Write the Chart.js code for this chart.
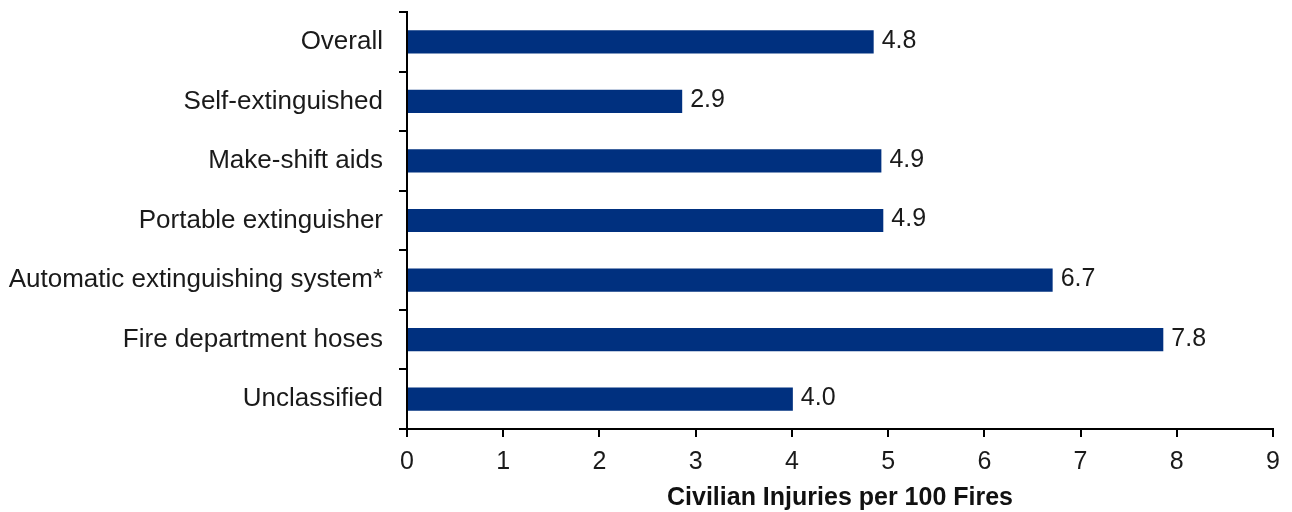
<!DOCTYPE html>
<html>
<head>
<meta charset="utf-8">
<script src="https://cdn.jsdelivr.net/npm/chart.js@4"></script>
<style>
html,body{margin:0;padding:0;background:#fff;}
#wrap{width:1292px;height:512px;}
</style>
</head>
<body>
<div id="wrap"><canvas id="c" width="1292" height="512"></canvas></div>
<script>
const categories = ["Overall","Self-extinguished","Make-shift aids","Portable extinguisher","Automatic extinguishing system*","Fire department hoses","Unclassified"];
const values = [4.85, 2.86, 4.93, 4.95, 6.71, 7.86, 4.01];
const valueLabels = ["4.8","2.9","4.9","4.9","6.7","7.8","4.0"];
const xTicks = [0,1,2,3,4,5,6,7,8,9];
const xTitle = "Civilian Injuries per 100 Fires";

const FONT = '"Liberation Sans", Arial, sans-serif';

const labelPlugin = {
  id: 'valueLabels',
  afterDatasetsDraw(chart) {
    const ctx = chart.ctx;
    const meta = chart.getDatasetMeta(0);
    ctx.save();
    ctx.font = '25px ' + FONT;
    ctx.fillStyle = '#1a1a1a';
    ctx.textAlign = 'left';
    ctx.textBaseline = 'middle';
    meta.data.forEach((bar, i) => {
      ctx.fillText(valueLabels[i], bar.x + 8, bar.y - 1);
    });
    ctx.restore();
  }
};

new Chart(document.getElementById('c'), {
  type: 'bar',
  data: {
    labels: categories,
    datasets: [{
      data: values,
      backgroundColor: '#00307f',
      borderWidth: 0,
      barPercentage: 0.39,
      categoryPercentage: 1.0
    }]
  },
  options: {
    indexAxis: 'y',
    responsive: false,
    animation: false,
    devicePixelRatio: 1,
    layout: { padding: { top: 12, right: 19, left: 0, bottom: 0 } },
    plugins: { legend: { display: false }, tooltip: { enabled: false } },
    scales: {
      x: {
        min: 0, max: 9,
        afterBuildTicks(scale) { scale.ticks = xTicks.map(v => ({ value: v })); },
        afterFit(scale) { scale.height = 83; scale.paddingLeft = 0; scale.paddingRight = 0; },
        grid: { display: true, drawOnChartArea: false, drawTicks: true, tickLength: 8, color: '#000', lineWidth: 2 },
        border: { display: true, color: '#000', width: 2 },
        ticks: { color: '#1a1a1a', padding: 10, font: { family: FONT, size: 25 } },
        title: { display: true, text: xTitle, color: '#111', padding: { top: 4, bottom: -1 }, font: { family: FONT, size: 25, weight: 'bold' } }
      },
      y: {
        afterFit(scale) { scale.width = 407; scale.paddingTop = 0; scale.paddingBottom = 0; },
        grid: { display: true, offset: true, drawOnChartArea: false, drawTicks: true, tickLength: 8, color: '#000', lineWidth: 2 },
        border: { display: true, color: '#000', width: 2 },
        ticks: { color: '#1a1a1a', padding: 16, font: { family: FONT, size: 26 } }
      }
    }
  },
  plugins: [labelPlugin]
});
</script>
</body>
</html>
